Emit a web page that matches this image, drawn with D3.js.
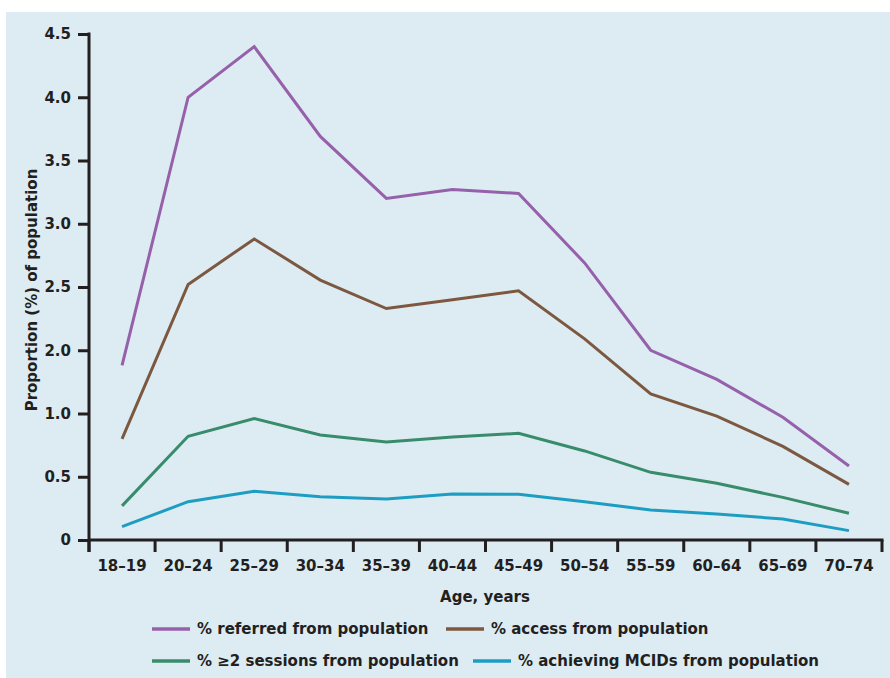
<!DOCTYPE html>
<html><head><meta charset="utf-8">
<script src="https://cdn.jsdelivr.net/npm/d3@7"></script>
<style>
html,body{margin:0;padding:0;background:#fff;}
svg text{font-family:"DejaVu Sans",sans-serif;font-weight:bold;fill:#231f20;}
</style></head>
<body><svg id="chart" width="890" height="678"></svg>
<script>
const categories = ["18–19","20–24","25–29","30–34","35–39","40–44","45–49","50–54","55–59","60–64","65–69","70–74"];
const referred = [1.76,4.00,4.40,3.69,3.20,3.27,3.24,2.69,2.00,1.54,0.97,0.585];
const access = [0.80,2.52,2.88,2.555,2.33,2.40,2.47,2.09,1.31,0.98,0.74,0.44];
const sessions = [0.27,0.82,0.96,0.83,0.775,0.815,0.843,0.704,0.535,0.448,0.337,0.211];
const mcids = [0.105,0.303,0.385,0.342,0.324,0.364,0.361,0.303,0.237,0.206,0.166,0.074];
const yTicks = [0,0.5,1.0,2.0,2.5,3.0,3.5,4.0,4.5];
const yTickLabels = ["0","0.5","1.0","2.0","2.5","3.0","3.5","4.0","4.5"];
const seriesNames = ["% referred from population","% access from population","% \u22652 sessions from population","% achieving MCIDs from population"];
const seriesColors = ["#9660aa","#7d5840","#388c6c","#1e9dc2"];
const seriesData = [referred, access, sessions, mcids];

const svg = d3.select("#chart");
svg.append("rect").attr("x",6).attr("y",12).attr("width",884).attr("height",666).attr("fill","#ddecf3");

const x = d3.scaleBand().domain(categories).range([89,882]);
const y = d3.scaleLinear().domain([0,1,2,4.5]).range([540,413.5,350.25,34]);
const axisColor = "#231f20";

// y axis
const yAxis = svg.append("g").attr("transform","translate(89,0)")
  .call(d3.axisLeft(y).tickValues(yTicks).tickFormat((d,i)=>yTickLabels[i]).tickSize(11).tickPadding(7));
yAxis.select(".domain").remove();
yAxis.selectAll(".tick line").attr("stroke",axisColor).attr("stroke-width",3);
yAxis.selectAll(".tick text").attr("font-size",15);
svg.append("line").attr("x1",89).attr("x2",89).attr("y1",y(4.5)-1.5).attr("y2",552).attr("stroke",axisColor).attr("stroke-width",3);

// x axis
const xAxis = svg.append("g").attr("transform","translate(0,540)")
  .call(d3.axisBottom(x).tickSize(0).tickPadding(20));
xAxis.select(".domain").remove();
xAxis.selectAll(".tick text").attr("font-size",15);
svg.append("line").attr("x1",89).attr("x2",883.5).attr("y1",540).attr("y2",540).attr("stroke",axisColor).attr("stroke-width",3);
const bounds = categories.map(c=>x(c)).concat([x.range()[1]]);
svg.append("g").selectAll("line").data(bounds).join("line")
  .attr("x1",d=>d).attr("x2",d=>d).attr("y1",540).attr("y2",552)
  .attr("stroke",axisColor).attr("stroke-width",3);

// axis titles
svg.append("text").attr("x",485).attr("y",602).attr("text-anchor","middle").attr("font-size",15).text("Age, years");
svg.append("text").attr("transform","translate(37,290) rotate(-90)").attr("text-anchor","middle").attr("font-size",15).text("Proportion (%) of population");

// lines
const line = d3.line().x((d,i)=>x(categories[i])+x.bandwidth()/2).y(d=>y(d));
seriesData.forEach((s,k)=>{
  svg.append("path").datum(s).attr("d",line).attr("fill","none")
    .attr("stroke",seriesColors[k]).attr("stroke-width",3).attr("stroke-linejoin","miter");
});

// legend
const legendPos = [[152,629],[446,629],[152,661],[473,661]];
seriesNames.forEach((n,k)=>{
  const [lx,ly] = legendPos[k];
  svg.append("line").attr("x1",lx).attr("x2",lx+38).attr("y1",ly).attr("y2",ly)
    .attr("stroke",seriesColors[k]).attr("stroke-width",3.5);
  svg.append("text").attr("x",lx+45).attr("y",ly).attr("dy","0.35em").attr("font-size",15).text(n);
});
</script></body></html>
